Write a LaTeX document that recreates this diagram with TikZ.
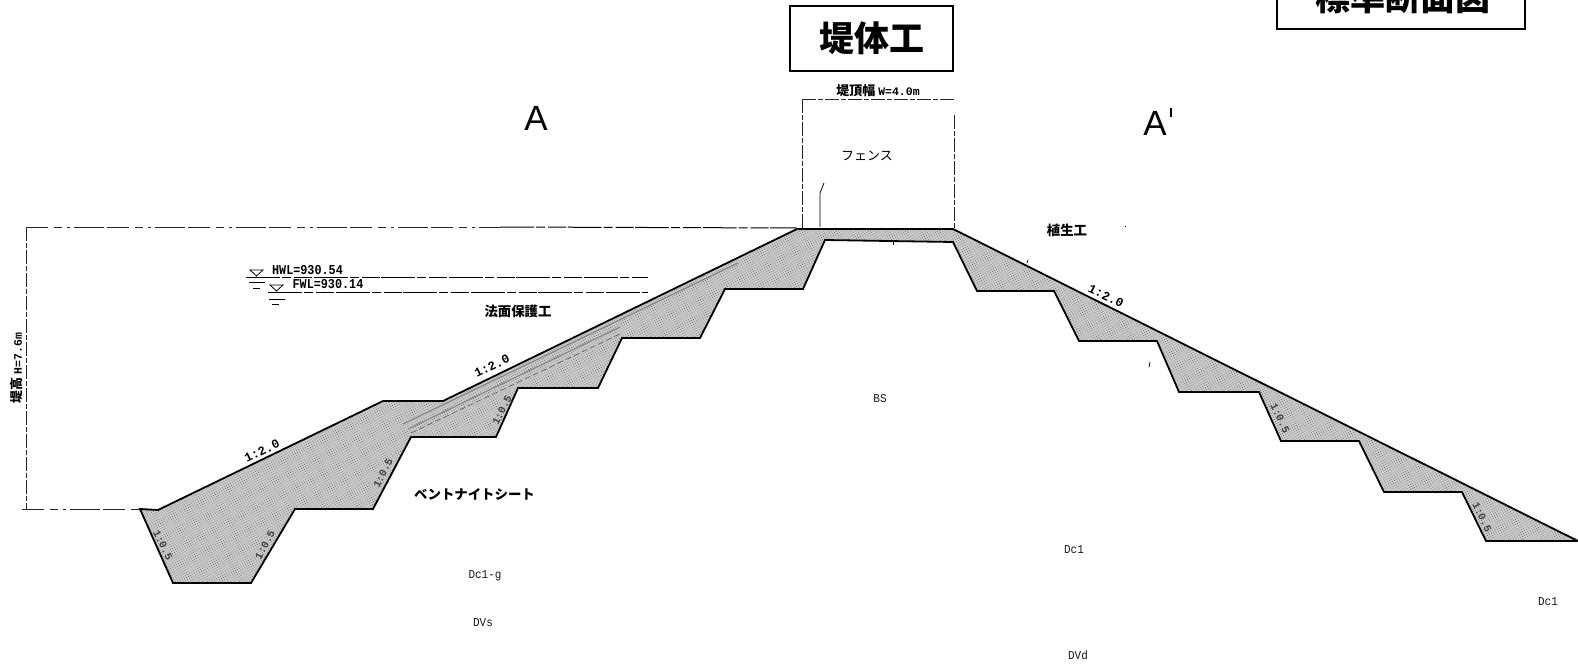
\documentclass[tikz,border=0pt]{standalone}
\usepackage{fontspec}
\setmainfont{Liberation Sans}
\setmonofont{Liberation Mono}
\newfontfamily\cjk{Noto Sans CJK JP}
\usetikzlibrary{patterns.meta}
\tikzset{
  body/.style={draw=none,fill=black!21},
  stipple/.style={pattern={Dots[radius=0.38pt,distance=2.3pt,angle=30]},pattern color=black!75},
  edge/.style={draw=black,line width=1.8pt,line join=miter,line cap=butt},
  thinline/.style={draw=black,line width=0.8pt},
  brokenline/.style={draw=black,line width=1pt,dash pattern=on 34pt off 2pt on 9pt off 3pt on 18pt off 1.5pt},
  sparseline/.style={draw=black!85,line width=0.9pt,dash pattern=on 22pt off 6pt on 8pt off 5pt on 3pt off 4pt on 30pt off 3pt},
  dimline/.style={draw=black!85,line width=0.8pt,dash pattern=on 14pt off 2pt on 5pt off 2pt},
  sheet/.style={draw=black!48,line width=1.1pt},
  jp/.style={font=\cjk\bfseries\fontsize{13.4}{14}\selectfont,inner sep=0pt,text=black},
  geo/.style={font=\ttfamily\fontsize{11}{12}\selectfont,inner sep=0pt,text=black!90,yscale=1.1},
  slopelab/.style={font=\ttfamily\bfseries\fontsize{12.5}{13}\selectfont,inner sep=0pt,text=black},
  faintlab/.style={font=\ttfamily\bfseries\fontsize{10.5}{12}\selectfont,inner sep=0pt,text=black!75},
  level/.style={font=\ttfamily\bfseries\fontsize{11.8}{12}\selectfont,inner sep=0pt,text=black,yscale=1.15},
  titlebox/.style={draw=black,line width=1.8pt,fill=white},
  secmark/.style={font=\fontsize{35}{36}\selectfont,inner sep=0pt,text=black}
}
\begin{document}
\begin{tikzpicture}[x=1pt,y=-1pt]
\clip (0,0) rectangle (1578,664);
\fill[white] (0,0) rectangle (1578,664);
% dam body
\def\dampath{(140,509) -- (158,510) -- (383,401) -- (443,401) -- (797,229) -- (953,229)
  -- (1578,541) -- (1486,541) -- (1462,492) -- (1384,492) -- (1359,441) -- (1281,441)
  -- (1259,392) -- (1179,392) -- (1157,341) -- (1079,341) -- (1054,291) -- (977,291)
  -- (953,242) -- (825,240) -- (803,289) -- (725,289) -- (700,338) -- (622,338)
  -- (598,388) -- (518,388) -- (496,437) -- (411,437) -- (373,509) -- (295,509)
  -- (251,583) -- (173,583) -- cycle}
\path[body] \dampath;
\path[stipple] \dampath;
% bentonite sheet / slope protection
\draw[sheet] (403,424) -- (738,263);
\draw[sheet] (408,429) -- (620,327);
\draw[black!70,line width=0.5pt,dash pattern=on 6pt off 3pt] (411,433) -- (622,333);
\draw[edge] \dampath;
% crest dimension
\draw[dimline] (802,99) -- (956,99);
\draw[dimline] (802,99) -- (802,228);
\draw[dimline] (954,115) -- (954,228);
\draw[thinline] (820,227) -- (820,193) -- (824,183);
% height dimension
\draw[sparseline] (26,227) -- (500,227);
\draw[brokenline] (500,227) -- (797,228);
\draw[dimline] (26,227) -- (26,509);
\draw[sparseline] (22,509.5) -- (140,509.5);
% water levels
\draw[brokenline] (246,277) -- (648,277);
\draw[brokenline] (268,292) -- (648,292);
\draw[thinline] (250,270) -- (263,270) -- (256.5,276) -- cycle;
\draw[thinline] (249,282) -- (265,282);
\draw[thinline] (253,288) -- (260,288);
\draw[thinline] (270,285) -- (283,285) -- (276.5,291) -- cycle;
\draw[thick] (269,299) -- (285,299);
\draw[thinline] (272,304) -- (279,304);
% small marks
\draw[black,line width=0.8pt] (1027,263) -- (1028,260);
\draw[black,line width=0.8pt] (1149,367) -- (1150,362);
\draw[black,line width=0.8pt] (893,242) -- (893,245);
\fill[black] (1124.5,225.5) rectangle (1126,227);
% title boxes
\node[titlebox,minimum width=163pt,minimum height=65pt,inner sep=0pt] (main) at (871.5,38.5) {};
\node[font=\cjk\bfseries\fontsize{35}{36}\selectfont,inner sep=0pt] (mainT) at (872,38) {堤体工};
\node[titlebox,minimum width=248pt,minimum height=59pt,inner sep=0pt] (std) at (1401,-0.5) {};
\node[font=\cjk\bfseries\fontsize{35}{36}\selectfont,inner sep=0pt] (stdT) at (1403,-3) {標準断面図};
% section marks
\node[secmark] (a) at (536,118) {A};
\node[secmark] (ap) at (1155,123) {A};
\draw[black,line width=1.4pt] (1171,108) -- (1171,117);
% labels
\node[font=\cjk\bfseries\fontsize{13}{14}\selectfont,inner sep=0pt] (crest) at (878,91) {堤頂幅 {\ttfamily\bfseries\fontsize{11.5}{12}\selectfont W=4.0m}};
\node[jp,font=\cjk\fontsize{13}{14}\selectfont] (fence) at (867,156) {フェンス};
\node[jp] (veg) at (1067,230) {植生工};
\node[jp] (prot) at (518,311) {法面保護工};
\node[jp] (bent) at (474.5,494) {ベントナイトシート};
\node[level] (hwl) at (307.5,270) {HWL=930.54};
\node[level] (fwl) at (328,284) {FWL=930.14};
\node[font=\cjk\bfseries\fontsize{13}{14}\selectfont,inner sep=0pt,rotate=90] (h) at (17,368) {堤高 {\ttfamily\bfseries\fontsize{11.5}{12}\selectfont H=7.6m}};
\node[geo] (bs) at (880,399) {BS};
\node[geo] (dcg) at (485,576) {Dc1-g};
\node[geo] (dvs) at (483,623) {DVs};
\node[geo] (dc1) at (1074,550) {Dc1};
\node[geo] (dc2) at (1548,602) {Dc1};
\node[geo] (dvd) at (1078,655) {DVd};
% slope labels
\node[slopelab,rotate=26] (s1) at (262,451) {1:2.0};
\node[slopelab,rotate=26] (s2) at (492,366) {1:2.0};
\node[slopelab,rotate=-26] (s3) at (1106,296) {1:2.0};
\node[faintlab,rotate=64] (t1) at (383,473) {1:0.5};
\node[faintlab,rotate=-64] (t2) at (163,545) {1:0.5};
\node[faintlab,rotate=62] (t3) at (265,545) {1:0.5};
\node[faintlab,rotate=64] (t4) at (502,410) {1:0.5};
\node[faintlab,rotate=-64] (t5) at (1280,418) {1:0.5};
\node[faintlab,rotate=-64] (t6) at (1482,517) {1:0.5};
\end{tikzpicture}
\end{document}
